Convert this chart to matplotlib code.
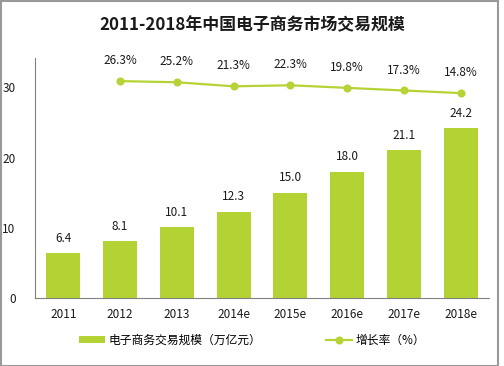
import matplotlib
matplotlib.use("Agg")
import matplotlib.pyplot as plt
from matplotlib.patches import Rectangle

plt.rcParams['font.family'] = ['Noto Sans CJK SC', 'DejaVu Sans']

years = ['2011', '2012', '2013', '2014e', '2015e', '2016e', '2017e', '2018e']
scale = [6.4, 8.1, 10.1, 12.3, 15.0, 18.0, 21.1, 24.2]
growth_years = years[1:]
growth = [26.3, 25.2, 21.3, 22.3, 19.8, 17.3, 14.8]

bar_color = '#b3d234'
line_color = '#b5d334'
text_color = '#1a1a1a'

fig = plt.figure(figsize=(5.04, 3.66), dpi=100)
ax = fig.add_axes([35/504, 68/366, 454/504, 240/366])
x = list(range(len(years)))
ax.bar(x, scale, width=0.6, color=bar_color, label='电子商务交易规模（万亿元）', zorder=2)
for xi, v in zip(x, scale):
    ax.annotate(f'{v:.1f}', (xi, v), xytext=(0, 6), textcoords='offset points',
                ha='center', va='bottom', fontsize=8.5, color=text_color)
ax.set_xlim(-0.5, len(years) - 0.5)
ax.set_ylim(0, 34.2)
ax.set_yticks([0, 10, 20, 30])
ax.set_xticks(x)
ax.set_xticklabels(years)
ax.tick_params(axis='both', length=0, labelsize=8.5, colors=text_color)
ax.tick_params(axis='y', pad=14)
ax.tick_params(axis='x', pad=7)
for s in ['top', 'right']:
    ax.spines[s].set_visible(False)
for s in ['left', 'bottom']:
    ax.spines[s].set_color('#808080')
    ax.spines[s].set_linewidth(0.8)

ax2 = ax.twinx()
gx = [years.index(g) for g in growth_years]
ax2.plot(gx, growth, color=line_color, linewidth=1.6, marker='o', markersize=4.8,
         label='增长率（%）', zorder=3)
for xi, v in zip(gx, growth):
    ax2.annotate(f'{v:.1f}%', (xi, v), xytext=(0, 10), textcoords='offset points',
                 ha='center', va='bottom', fontsize=8.5, color=text_color)
ax2.set_ylim(-182, 48.5)
ax2.axis('off')

h1, l1 = ax.get_legend_handles_labels()
h2, l2 = ax2.get_legend_handles_labels()
fig.legend(h1 + h2, l1 + l2, loc='center', bbox_to_anchor=(0.5, 1 - 340/366),
           ncol=2, frameon=False, fontsize=8.5, columnspacing=5.5, handlelength=2.2,
           handletextpad=0.3, handleheight=0.5)

fig.text(0.5, 1 - 25/366, '2011-2018年中国电子商务市场交易规模', ha='center', va='center',
         fontsize=12.2, fontweight='bold', color=text_color)

fig.patches.append(Rectangle((0.001, 0.001), 0.988, 0.997, transform=fig.transFigure,
                             fill=False, edgecolor='#999999', linewidth=1.5))

fig.savefig('out.png', dpi=100)
